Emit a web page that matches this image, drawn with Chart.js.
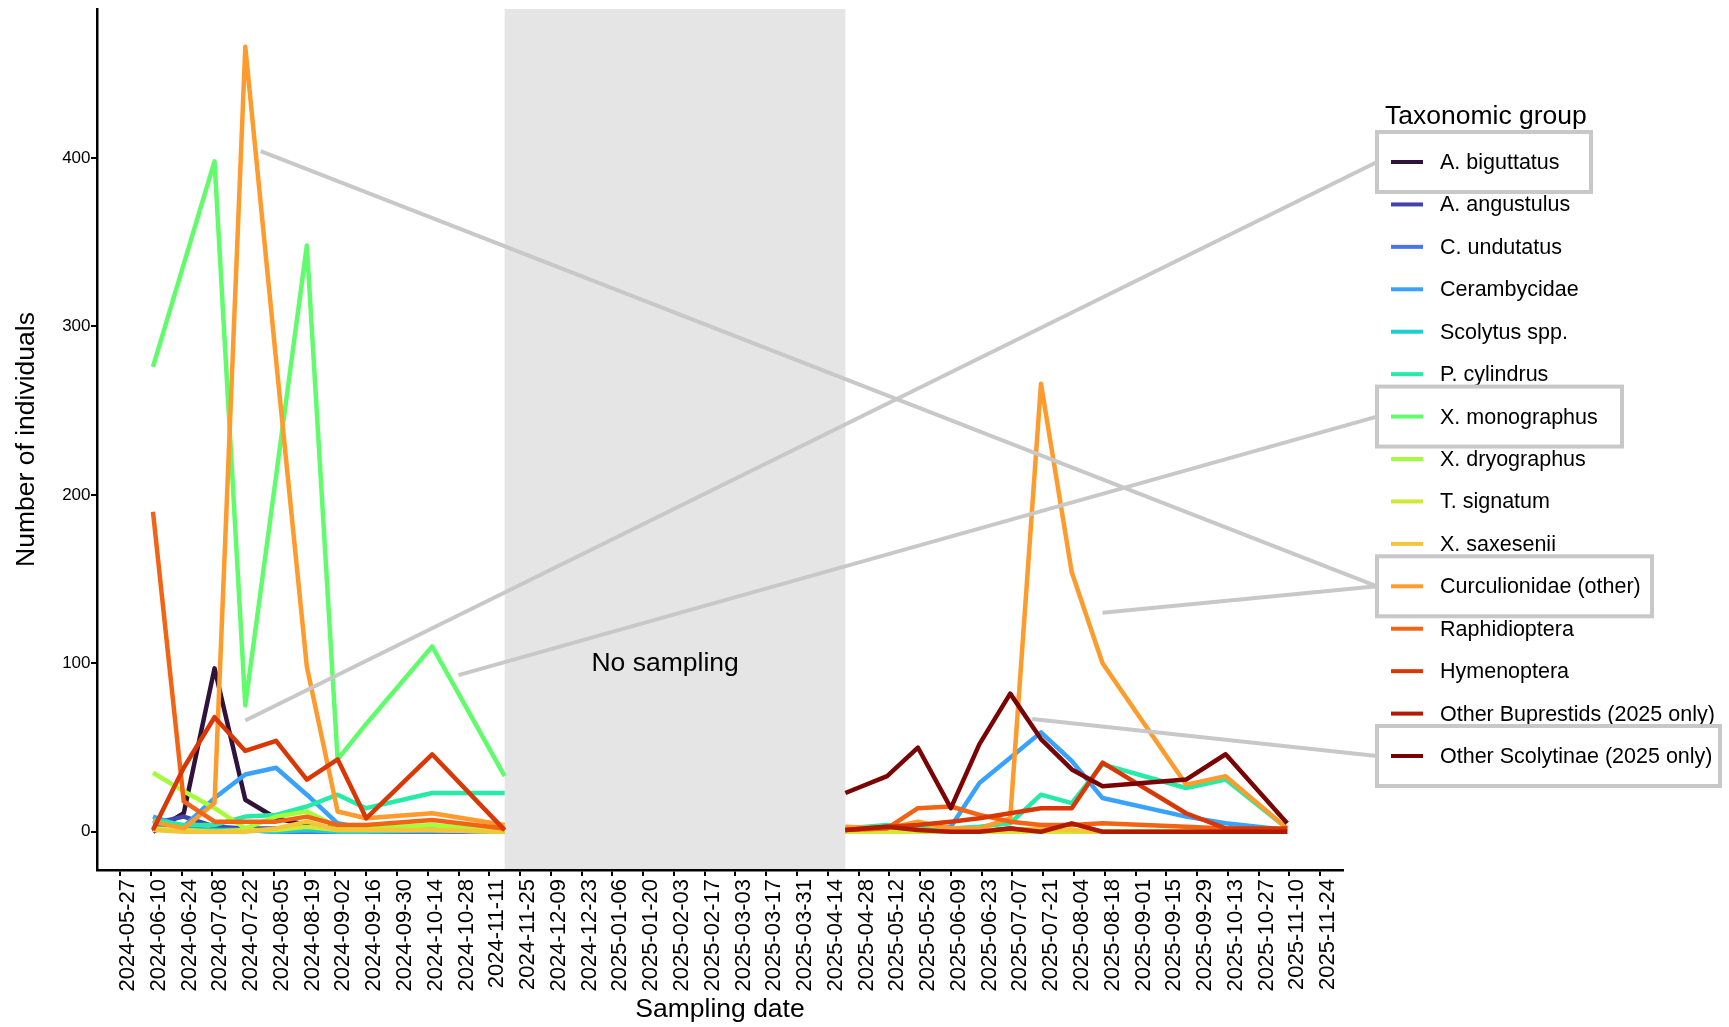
<!DOCTYPE html>
<html>
<head>
<meta charset="utf-8">
<script src="https://cdn.jsdelivr.net/npm/chart.js@4.4.1/dist/chart.umd.min.js"></script>
<style>
  html, body { margin: 0; padding: 0; background: #fff; }
  #wrap { width: 1729px; height: 1027px; }
</style>
</head>
<body>
<div id="wrap"><canvas id="chart" width="1729" height="1027"></canvas></div>
<script>
// Etiquetas del eje x (cada 14 días)
const tickLabels = [
  '2024-05-27', '2024-06-10', '2024-06-24', '2024-07-08', '2024-07-22', '2024-08-05', '2024-08-19',
  '2024-09-02', '2024-09-16', '2024-09-30', '2024-10-14', '2024-10-28', '2024-11-11', '2024-11-25',
  '2024-12-09', '2024-12-23', '2025-01-06', '2025-01-20', '2025-02-03', '2025-02-17', '2025-03-03',
  '2025-03-17', '2025-03-31', '2025-04-14', '2025-04-28', '2025-05-12', '2025-05-26', '2025-06-09',
  '2025-06-23', '2025-07-07', '2025-07-21', '2025-08-04', '2025-08-18', '2025-09-01', '2025-09-15',
  '2025-09-29', '2025-10-13', '2025-10-27', '2025-11-10', '2025-11-24'
];
const yTicks = [0, 100, 200, 300, 400];

// Fechas de muestreo
const sampleDates2024 = ['2024-06-11', '2024-06-25', '2024-07-09', '2024-07-23', '2024-08-06',
  '2024-08-20', '2024-09-03', '2024-09-16', '2024-10-16', '2024-11-18'];
const sampleDates2025 = ['2025-04-22', '2025-05-11', '2025-05-25', '2025-06-09', '2025-06-22',
  '2025-07-06', '2025-07-20', '2025-08-03', '2025-08-17', '2025-09-24', '2025-10-12', '2025-11-09'];

const groupNames = ['A. biguttatus', 'A. angustulus', 'C. undutatus', 'Cerambycidae', 'Scolytus spp.',
  'P. cylindrus', 'X. monographus', 'X. dryographus', 'T. signatum', 'X. saxesenii',
  'Curculionidae (other)', 'Raphidioptera', 'Hymenoptera', 'Other Buprestids (2025 only)',
  'Other Scolytinae (2025 only)'];
const groupColors = ['#30123b', '#4145ab', '#4675ed', '#39a2fc', '#1bcfd4', '#24eca6', '#61fc6c',
  '#a4fc3b', '#d1e834', '#f3c63a', '#fe9b2d', '#f36315', '#d93806', '#b11901', '#7a0403'];

// Conteos: 10 valores 2024 seguidos de 12 valores 2025
const aBiguttatus     = [0, 11, 97, 19, 8, 4, 2, 1, 1, 0,   0, 1, 0, 0, 0, 2, 0, 0, 0, 0, 0, 0];
const aAngustulus     = [5, 9, 3, 2, 2, 1, 1, 0, 1, 0,     0, 0, 0, 0, 0, 0, 0, 0, 0, 0, 0, 0];
const cUndutatus      = [4, 2, 1, 1, 0, 0, 0, 0, 0, 0,     0, 0, 1, 0, 0, 0, 0, 0, 0, 0, 0, 0];
const cerambycidae    = [9, 3, 20, 34, 38, 22, 5, 2, 1, 0, 0, 1, 1, 3, 29, 44, 59, 42, 20, 9, 5, 1];
const scolytus        = [2, 1, 1, 1, 0, 1, 0, 0, 1, 0,     0, 0, 0, 0, 0, 1, 1, 0, 0, 0, 0, 0];
const pCylindrus      = [7, 4, 4, 9, 10, 15, 22, 14, 23, 23, 2, 4, 3, 2, 3, 5, 22, 17, 40, 26, 31, 2];
const xMonographus    = [276, 337, 398, 75, 211, 348, 43, 64, 110, 33, 0, 0, 0, 0, 0, 0, 0, 0, 0, 0, 0, 0];
const xDryographus    = [35, 24, 14, 2, 9, 12, 3, 2, 4, 0, 0, 0, 0, 0, 0, 0, 0, 0, 0, 0, 0, 0];
const tSignatum       = [2, 1, 0, 1, 1, 3, 1, 1, 1, 0,     0, 0, 0, 0, 0, 0, 0, 0, 0, 0, 0, 0];
const xSaxesenii      = [1, 0, 0, 0, 2, 6, 1, 1, 1, 0,     1, 2, 5, 2, 1, 1, 2, 1, 0, 0, 0, 0];
const curculionidae   = [6, 2, 17, 466, 280, 98, 12, 8, 11, 4, 3, 2, 6, 2, 2, 8, 266, 154, 100, 28, 33, 2];
const raphidioptera   = [190, 18, 6, 6, 6, 9, 4, 4, 7, 2, 1, 2, 14, 15, 10, 6, 4, 4, 5, 3, 2, 1];
const hymenoptera     = [1, 38, 68, 48, 54, 31, 43, 8, 46, 1, 1, 3, 4, 6, 8, 11, 14, 14, 41, 11, 2, 2];
const otherBuprestids = [null, null, null, null, null, null, null, null, null, null, 1, 3, 1, 0, 0, 2, 0, 5, 0, 0, 0, 0];
const otherScolytinae = [null, null, null, null, null, null, null, null, null, null, 23, 33, 50, 14, 52, 82, 55, 37, 27, 31, 46, 5];

const groupValues = [aBiguttatus, aAngustulus, cUndutatus, cerambycidae, scolytus, pCylindrus,
  xMonographus, xDryographus, tSignatum, xSaxesenii, curculionidae, raphidioptera, hymenoptera,
  otherBuprestids, otherScolytinae];

// Llamadas de la leyenda (grupo, fecha y valor del punto de anclaje)
const calloutGroups = ['A. biguttatus', 'X. monographus', 'Curculionidae (other)', 'Curculionidae (other)', 'Other Scolytinae (2025 only)'];
const calloutDates = ['2024-07-23', '2024-10-28', '2024-07-30', '2025-08-17', '2025-07-16'];
const calloutValues = [66, 93, 404, 130, 67];
const noSamplingLabelDate = '2025-01-30';
const noSamplingLabelValue = 100;

const FONT = '"Liberation Sans", Arial, sans-serif';
const originUTC = Date.UTC(2024, 4, 27);

function dayOf(str) {
  const [y, m, d] = str.split('-').map(Number);
  return (Date.UTC(y, m - 1, d) - originUTC) / 86400000;
}

const allDates = sampleDates2024.concat(sampleDates2025);
const gapStart = dayOf(sampleDates2024[sampleDates2024.length - 1]);
const gapEnd = dayOf(sampleDates2025[0]);
const tickDays = tickLabels.map(dayOf);

// Datos por grupo, con un hueco entre temporadas
const datasets = groupNames.map((name, i) => {
  const values = groupValues[i];
  const pts = [];
  allDates.forEach((d, j) => {
    if (j === sampleDates2024.length) pts.push({ x: (gapStart + gapEnd) / 2, y: null });
    pts.push({ x: dayOf(d), y: values[j] });
  });
  return {
    label: name,
    data: pts,
    borderColor: groupColors[i],
    backgroundColor: groupColors[i],
    borderWidth: 4.5,
    pointRadius: 0,
    tension: 0,
    spanGaps: false,
    borderJoinStyle: 'round',
    order: groupNames.length - i
  };
});

// Cajas de la leyenda resaltadas (px)
const legendLayout = { titleX: 1385, titleY: 117, firstY: 162, step: 42.43, keyX0: 1391, keyX1: 1423, textX: 1440 };
const boxLeft = 1377;
const boxRight = { 'A. biguttatus': 1591, 'X. monographus': 1622, 'Curculionidae (other)': 1652, 'Other Scolytinae (2025 only)': 1720 };

const sketchPlugin = {
  id: 'sketch',
  beforeDraw(chart) {
    const { ctx, chartArea, scales: { x, y } } = chart;
    const x0 = x.getPixelForValue(gapStart);
    const x1 = x.getPixelForValue(gapEnd);
    ctx.save();
    ctx.fillStyle = '#e5e5e5';
    ctx.fillRect(x0, chartArea.top, x1 - x0, chartArea.bottom - chartArea.top);
    ctx.fillStyle = '#000';
    ctx.font = '26.5px ' + FONT;
    ctx.textAlign = 'center';
    ctx.textBaseline = 'middle';
    ctx.fillText('No sampling', x.getPixelForValue(dayOf(noSamplingLabelDate)), y.getPixelForValue(noSamplingLabelValue));
    ctx.restore();
  },
  afterDraw(chart) {
    const { ctx, scales: { x, y } } = chart;
    const L = legendLayout;
    ctx.save();
    // conectores
    ctx.strokeStyle = '#c8c8c8';
    ctx.lineWidth = 4;
    calloutGroups.forEach((g, k) => {
      const idx = groupNames.indexOf(g);
      const cy = L.firstY + idx * L.step;
      ctx.beginPath();
      ctx.moveTo(x.getPixelForValue(dayOf(calloutDates[k])), y.getPixelForValue(calloutValues[k]));
      ctx.lineTo(boxLeft, cy);
      ctx.stroke();
    });
    // título
    ctx.fillStyle = '#000';
    ctx.textAlign = 'left';
    ctx.textBaseline = 'middle';
    ctx.font = '26.5px ' + FONT;
    ctx.fillText('Taxonomic group', L.titleX, L.titleY);
    // elementos
    ctx.font = '21.5px ' + FONT;
    groupNames.forEach((name, i) => {
      const cy = L.firstY + i * L.step;
      ctx.strokeStyle = groupColors[i];
      ctx.lineWidth = 4;
      ctx.beginPath();
      ctx.moveTo(L.keyX0, cy);
      ctx.lineTo(L.keyX1, cy);
      ctx.stroke();
      ctx.fillStyle = '#000';
      ctx.fillText(name, L.textX, cy + 1);
    });
    // cajas
    ctx.strokeStyle = '#c8c8c8';
    ctx.lineWidth = 4;
    Object.keys(boxRight).forEach(g => {
      const cy = L.firstY + groupNames.indexOf(g) * L.step;
      ctx.strokeRect(boxLeft, cy - 30, boxRight[g] - boxLeft, 60);
    });
    ctx.restore();
  }
};

new Chart(document.getElementById('chart'), {
  type: 'line',
  data: { datasets },
  options: {
    responsive: false,
    animation: false,
    events: [],
    layout: { padding: { left: 0, top: 9, right: 386, bottom: 0 } },
    plugins: { legend: { display: false }, tooltip: { enabled: false } },
    scales: {
      x: {
        type: 'linear',
        min: -10.47,
        max: 556.4,
        afterBuildTicks: scale => { scale.ticks = tickDays.map(v => ({ value: v })); },
        afterFit: scale => { scale.height = 157; scale.paddingLeft = 0; scale.paddingRight = 0; },
        ticks: {
          autoSkip: false,
          minRotation: 90,
          maxRotation: 90,
          padding: 3,
          labelOffset: 8,
          color: '#000',
          font: { family: FONT, size: 22 },
          callback: (v, i) => tickLabels[i]
        },
        grid: { display: true, drawOnChartArea: false, drawTicks: true, tickLength: 6, color: '#000', lineWidth: 2 },
        border: { display: true, color: '#000', width: 2.5 },
        title: { display: true, text: 'Sampling date', color: '#000', font: { family: FONT, size: 26.5, lineHeight: 1 }, padding: { top: 0, bottom: 4 } }
      },
      y: {
        type: 'linear',
        min: -22.7,
        max: 488.4,
        afterBuildTicks: scale => { scale.ticks = yTicks.map(v => ({ value: v })); },
        afterFit: scale => { scale.width = 97; scale.paddingTop = 0; scale.paddingBottom = 0; },
        ticks: {
          padding: 0.5,
          color: '#000',
          font: { family: FONT, size: 17 },
          callback: v => String(v)
        },
        grid: { display: true, drawOnChartArea: false, drawTicks: true, tickLength: 6, color: '#000', lineWidth: 2 },
        border: { display: true, color: '#000', width: 2.5 },
        title: { display: true, text: 'Number of individuals', color: '#000', font: { family: FONT, size: 26.5, lineHeight: 1 }, padding: { top: 13, bottom: 0 } }
      }
    }
  },
  plugins: [sketchPlugin]
});
</script>
</body>
</html>
